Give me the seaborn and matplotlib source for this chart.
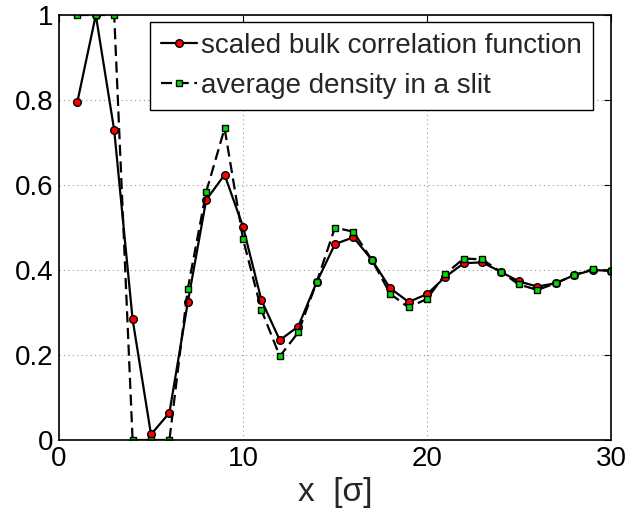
import matplotlib
matplotlib.use("Agg")
import matplotlib.pyplot as plt
import seaborn as sns
import pandas as pd

x_vals = list(range(1, 31))
bulk_corr = [0.796, 1.0, 0.729, 0.284, 0.013, 0.064, 0.324, 0.565, 0.624, 0.502,
             0.329, 0.235, 0.267, 0.371, 0.461, 0.477, 0.424, 0.357, 0.325, 0.343,
             0.384, 0.416, 0.418, 0.396, 0.373, 0.361, 0.369, 0.388, 0.400, 0.398]
slit_density = [1.0, 1.0, 1.0, 0.0, 0.0, 0.0, 0.356, 0.584, 0.733, 0.473,
                0.306, 0.197, 0.253, 0.371, 0.500, 0.490, 0.424, 0.344, 0.312, 0.332,
                0.391, 0.427, 0.425, 0.396, 0.366, 0.353, 0.369, 0.388, 0.402, 0.398]
label_bulk = "scaled bulk correlation function"
label_slit = "average density in a slit"
x_ticks = [0, 10, 20, 30]
y_ticks = [0, 0.2, 0.4, 0.6, 0.8, 1.0]
y_ticklabels = ["0", "0.2", "0.4", "0.6", "0.8", "1"]

sns.set_theme(style="white")
plt.rcParams["font.family"] = ["Liberation Sans", "DejaVu Sans"]

df = pd.DataFrame({"x": x_vals, "bulk": bulk_corr, "slit": slit_density})

fig = plt.figure(figsize=(6.4, 5.12), dpi=100)
ax = fig.add_axes([59/640, 1-440/512, 552/640, 425/512])

sns.lineplot(data=df, x="x", y="bulk", ax=ax, color="black", linewidth=1.6,
             marker="o", markersize=5.5, markerfacecolor="red",
             markeredgecolor="black", markeredgewidth=1.0, label=label_bulk)
sns.lineplot(data=df, x="x", y="slit", ax=ax, color="black", linewidth=1.6,
             linestyle=(0, (5, 2.5)),
             marker="s", markersize=4.5, markerfacecolor="#00dd00",
             markeredgecolor="black", markeredgewidth=1.0, label=label_slit)

ax.set_xlim(0, 30)
ax.set_ylim(0, 1)
ax.set_xticks(x_ticks)
ax.set_yticks(y_ticks)
ax.set_yticklabels(y_ticklabels)
ax.grid(True, linestyle=(0, (1, 3)), color="#999999", linewidth=0.8)
for s in ax.spines.values():
    s.set_visible(True)
    s.set_color("black")
    s.set_linewidth(1.2)
ax.tick_params(direction="in", length=5, width=0.8, top=True, right=True,
               labelsize=20, colors="black", pad=4)
ax.set_xlabel("x  [σ]", fontsize=24, labelpad=4)
ax.set_ylabel("")

leg = ax.legend(loc="upper right", bbox_to_anchor=(0.967, 0.984), borderaxespad=0,
                fontsize=20, fancybox=False, edgecolor="black", framealpha=1,
                handlelength=1.3, handletextpad=0.15, labelspacing=0.5,
                borderpad=0.4)
leg.get_frame().set_linewidth(1.0)

fig.savefig("out.png", dpi=100)
